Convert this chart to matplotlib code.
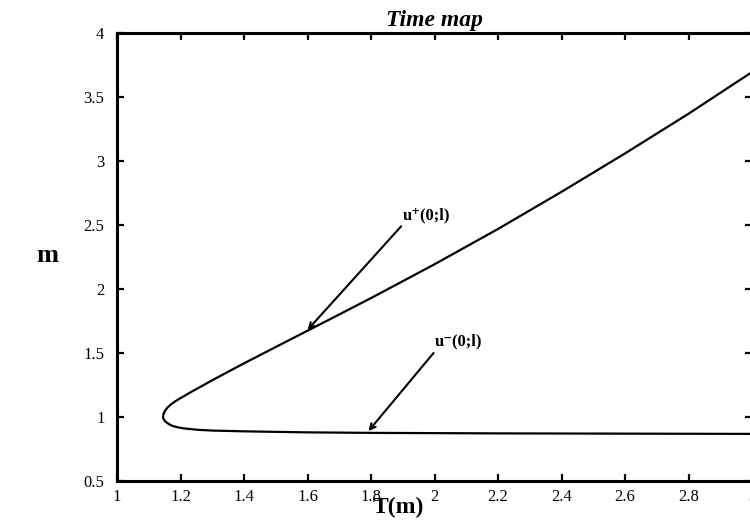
import numpy as np
import matplotlib
matplotlib.use("Agg")
import matplotlib.pyplot as plt

plt.rcParams['font.family'] = ['Liberation Serif', 'DejaVu Serif']

# time map: lower branch from the right end to the nose,
# then the upper branch back out to the right
T_lower = [3.0, 2.6, 2.2, 1.8, 1.6, 1.4, 1.3, 1.254, 1.21, 1.19, 1.175, 1.163, 1.152, 1.1464]
m_lower = [0.868, 0.870, 0.872, 0.876, 0.880, 0.888, 0.894, 0.900, 0.911, 0.920, 0.930, 0.945, 0.965, 0.985]
T_upper = [1.145, 1.1466, 1.1514, 1.1595, 1.1707, 1.182, 1.195, 1.233, 1.3, 1.358, 1.4, 1.5, 1.6,
           1.7, 1.8, 2.0, 2.2, 2.4, 2.6, 2.8, 3.0]
m_upper = [1.0, 1.025, 1.05, 1.075, 1.1, 1.12, 1.14, 1.195, 1.287, 1.364, 1.419, 1.547, 1.674,
           1.801, 1.929, 2.193, 2.469, 2.759, 3.059, 3.369, 3.695]

x_ticks = [1, 1.2, 1.4, 1.6, 1.8, 2, 2.2, 2.4, 2.6, 2.8, 3]
y_ticks = [0.5, 1, 1.5, 2, 2.5, 3, 3.5, 4]

# labels and arrows (text position, arrow start, arrow tip)
labels = ['u\u207a(0;l)', 'u\u207b(0;l)']
label_pos = [(1.975, 2.578), (2.075, 1.594)]
arrow_start = [(1.895, 2.49), (1.997, 1.5)]
arrow_tip = [(1.6, 1.68), (1.792, 0.89)]

fig = plt.figure(figsize=(7.5, 5.22), dpi=100)
ax = fig.add_axes([117/750, 41/522, 635/750, 448/522])

ax.plot(T_lower + T_upper, m_lower + m_upper, color='black', linewidth=1.6)

ax.set_xlim(1, 3)
ax.set_ylim(0.5, 4)
ax.set_xticks(x_ticks)
ax.set_xticklabels([f"{t:g}" for t in x_ticks])
ax.set_yticks(y_ticks)
ax.set_yticklabels([f"{t:g}" for t in y_ticks])
ax.tick_params(direction='in', top=True, right=True, length=5, width=1.6,
               labelsize=12)
ax.tick_params(axis='x', pad=6)
ax.tick_params(axis='y', pad=9)
for s in ax.spines.values():
    s.set_linewidth(2.2)

ax.set_title('Time map', fontsize=17, fontweight='bold', style='italic', pad=5)
ax.set_xlabel('T(m)', fontsize=17, fontweight='bold', va='center')
ax.xaxis.set_label_coords(0.4425, -0.06)
ax.set_ylabel('m', fontsize=19, fontweight='bold', rotation=0, va='center', ha='center')
ax.yaxis.set_label_coords(-0.109, 0.504)

for lab, pos, a0, a1 in zip(labels, label_pos, arrow_start, arrow_tip):
    ax.text(pos[0], pos[1], lab, fontsize=12, fontweight='bold',
            ha='center', va='center')
    ax.annotate('', xy=a1, xytext=a0,
                arrowprops=dict(arrowstyle='->', color='black', lw=1.5,
                                shrinkA=0, shrinkB=0))

fig.savefig('out.png', dpi=100, facecolor='white')
